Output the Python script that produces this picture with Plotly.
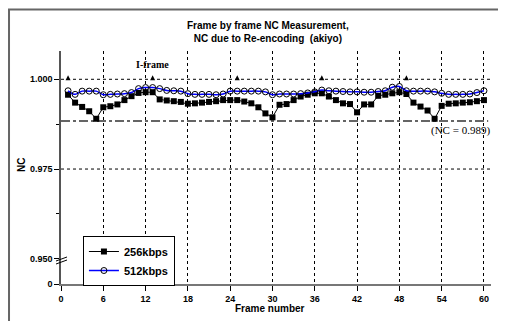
import plotly.graph_objects as go

frames = list(range(1, 61))
nc_256 = [0.9957, 0.9935, 0.9923, 0.9911, 0.9890, 0.9922, 0.9925, 0.9930, 0.9942, 0.9953,
          0.9962, 0.9964, 0.9964, 0.9944, 0.9941, 0.9939, 0.9937, 0.9932, 0.9933, 0.9935,
          0.9937, 0.9939, 0.9942, 0.9942, 0.9942, 0.9938, 0.9933, 0.9922, 0.9905, 0.9894,
          0.9929, 0.9931, 0.9942, 0.9952, 0.9957, 0.9961, 0.9961, 0.9952, 0.9942, 0.9933,
          0.9931, 0.9908, 0.9930, 0.9930, 0.9954, 0.9957, 0.9961, 0.9964, 0.9959, 0.9935,
          0.9924, 0.9913, 0.9890, 0.9926, 0.9932, 0.9933, 0.9935, 0.9936, 0.9939, 0.9942]
nc_512 = [0.9968, 0.9958, 0.9967, 0.9967, 0.9967, 0.9957, 0.9958, 0.9959, 0.9960, 0.9963,
          0.9974, 0.9977, 0.9977, 0.9974, 0.9969, 0.9968, 0.9967, 0.9960, 0.9958, 0.9958,
          0.9958, 0.9957, 0.9959, 0.9967, 0.9967, 0.9967, 0.9967, 0.9967, 0.9965, 0.9957,
          0.9959, 0.9959, 0.9959, 0.9960, 0.9962, 0.9965, 0.9970, 0.9968, 0.9967, 0.9966,
          0.9965, 0.9965, 0.9964, 0.9964, 0.9966, 0.9968, 0.9978, 0.9980, 0.9968, 0.9967,
          0.9967, 0.9967, 0.9965, 0.9961, 0.9958, 0.9958, 0.9958, 0.9959, 0.9963, 0.9968]
iframes = [1, 13, 25, 37, 49]
threshold = 0.9884
x_ticks = list(range(0, 61, 6))
y_break_zero = 0.94298
y_tickvals = [y_break_zero, 0.950, 0.975, 1.000]
y_ticktext = ["0", "0.950", "0.975", "1.000"]

SANS = "Liberation Sans, Arial, sans-serif"
SERIF = "Liberation Serif, Times New Roman, serif"

fig = go.Figure()
fig.add_trace(go.Scatter(
    x=frames, y=nc_256, name="<b>256kbps</b>", mode="lines+markers",
    line=dict(color="black", width=1),
    marker=dict(symbol="square", size=6, color="black"),
))
fig.add_trace(go.Scatter(
    x=frames, y=nc_512, name="<b>512kbps</b>", mode="lines+markers",
    line=dict(color="#0000ff", width=1.5, shape="spline"),
    marker=dict(symbol="circle-open", size=6, color="black", line=dict(color="black", width=1)),
))
fig.add_trace(go.Scatter(
    x=iframes, y=[1.0011] * len(iframes), mode="markers",
    marker=dict(symbol="arrow-up", size=5, color="black", line=dict(width=0)),
    showlegend=False, hoverinfo="skip",
))

shapes = []
for yv in [1.000, 0.975]:
    shapes.append(dict(type="line", xref="x", yref="y", x0=0, x1=60.9, y0=yv, y1=yv,
                       line=dict(color="black", width=1, dash="dot"), layer="below"))
shapes.append(dict(type="line", xref="x", yref="y", x0=0, x1=60.6, y0=threshold, y1=threshold,
                   line=dict(color="#333333", width=1.5, dash="dashdot"), layer="below"))
# outer border (top and left edges visible)
shapes.append(dict(type="rect", xref="paper", yref="paper", x0=-0.1209, x1=1.5, y0=-0.5, y1=1.178,
                   line=dict(color="#666666", width=2), fillcolor="rgba(0,0,0,0)"))
# axis break marks
for y0, y1 in [(0.0987, 0.1159), (0.0858, 0.1030)]:
    shapes.append(dict(type="line", xref="paper", yref="paper", x0=-0.0116, x1=0.0140, y0=y0, y1=y1,
                       line=dict(color="black", width=1)))

annotations = [
    dict(text="<b>Frame by frame NC Measurement,<br>NC due to Re-encoding  (akiyo)</b>",
         xref="paper", yref="paper", x=0.4814, y=1.0815, xanchor="center", yanchor="middle",
         showarrow=False, font=dict(family=SANS, size=10, color="black")),
    dict(text="<b>I-frame</b>", xref="x", yref="y", x=13, y=1.0040, showarrow=False,
         xanchor="center", yanchor="middle", font=dict(family=SERIF, size=10, color="black")),
    dict(text="(NC = 0.989)", xref="x", yref="y", x=56.7, y=0.9856, showarrow=False,
         xanchor="center", yanchor="middle", font=dict(family=SERIF, size=11, color="black")),
    dict(text="<b>Frame number</b>", xref="paper", yref="paper", x=0.486, y=-0.105,
         showarrow=False, xanchor="center", yanchor="middle",
         font=dict(family=SANS, size=10, color="black")),
    dict(text="<b>NC</b>", xref="paper", yref="paper", x=-0.0907, y=0.511, textangle=-90,
         showarrow=False, xanchor="center", yanchor="middle",
         font=dict(family=SANS, size=10, color="black")),
]

# page body adds an 8px offset, so the figure is sized/placed to compensate
fig.update_layout(
    width=498, height=313,
    margin=dict(l=53, r=15, t=43, b=37),
    paper_bgcolor="white", plot_bgcolor="white",
    font=dict(family=SANS, size=9, color="black"),
    showlegend=True,
    legend=dict(x=0.051, y=0.206, xanchor="left", yanchor="top",
                bgcolor="white", bordercolor="black", borderwidth=1,
                font=dict(family=SANS, size=11, color="black"),
                tracegroupgap=0, itemwidth=30),
    shapes=shapes, annotations=annotations,
    xaxis=dict(range=[0, 61.0], tickvals=x_ticks, ticktext=[f"<b>{t}</b>" for t in x_ticks],
               showline=True, linecolor="#777777", linewidth=2,
               ticks="outside", ticklen=5, tickcolor="black", tickwidth=1,
               showgrid=True, gridcolor="black", gridwidth=1, griddash="dot",
               zeroline=False, tickfont=dict(family=SANS, size=9)),
    yaxis=dict(range=[y_break_zero, 1.00788], tickvals=y_tickvals,
               ticktext=[f"<b>{t}</b>" for t in y_ticktext],
               showline=True, linecolor="#555555", linewidth=1.5,
               ticks="outside", ticklen=5, tickcolor="black", tickwidth=1,
               minor=dict(tickvals=[0.9625, 0.9875], ticks="outside", ticklen=3,
                          tickcolor="black", showgrid=False),
               showgrid=False, zeroline=False, tickfont=dict(family=SANS, size=9)),
)

fig.write_html("out.html")
